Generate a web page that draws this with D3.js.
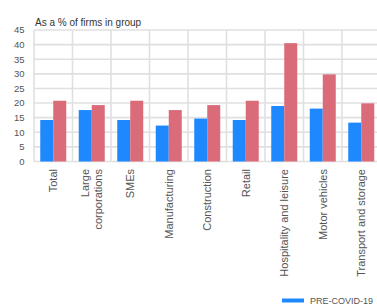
<!DOCTYPE html>
<html><head><meta charset="utf-8">
<script src="https://cdn.jsdelivr.net/npm/d3@7"></script>
<style>
html,body{margin:0;padding:0;background:#fff;overflow:hidden;}
svg{display:block;font-family:"Liberation Sans",Arial,sans-serif;}
</style></head>
<body>
<svg id="chart" width="377" height="305"></svg>
<script>
const categories = ["Total", "Large corporations", "SMEs", "Manufacturing", "Construction", "Retail", "Hospitality and leisure", "Motor vehicles", "Transport and storage"];
const categoryLines = [["Total"], ["Large", "corporations"], ["SMEs"], ["Manufacturing"], ["Construction"], ["Retail"], ["Hospitality and leisure"], ["Motor vehicles"], ["Transport and storage"]];
const preCovid = [14.2, 17.6, 14.2, 12.3, 14.7, 14.2, 19.0, 18.1, 13.3];
const current = [20.8, 19.3, 20.8, 17.6, 19.3, 20.8, 40.5, 29.8, 19.9];
const yTicks = [0, 5, 10, 15, 20, 25, 30, 35, 40, 45];
const seriesNames = ["PRE-COVID-19", "CURRENT"];
const legendShown = ["PRE-COVID-19"];
const colors = ["#1e88ff", "#da6b79"];

(function () {
const svg = d3.select("#chart");
const mLeft = 34, bandW = 38.5, mTop = 30, mBottom = 161.5;
const x = d3.scaleBand().domain(categories).range([mLeft, mLeft + bandW * categories.length]).padding(0);
const y = d3.scaleLinear().domain([0, 45]).range([mBottom, mTop]);
const xs = d3.scaleBand().domain(seriesNames).range([0, 26]);
const color = d3.scaleOrdinal().domain(seriesNames).range(colors);

// horizontal gridlines
svg.append("g").selectAll("line").data(yTicks).join("line")
  .attr("x1", mLeft).attr("x2", 377)
  .attr("y1", d => y(d)).attr("y2", d => y(d))
  .attr("stroke", "#e0e0e0").attr("stroke-width", 1.6);
// vertical gridlines
const bounds = categories.map(c => x(c)).concat([x.range()[1]]);
svg.append("g").selectAll("line").data(bounds).join("line")
  .attr("x1", d => d).attr("x2", d => d)
  .attr("y1", mTop).attr("y2", mBottom)
  .attr("stroke", "#e0e0e0").attr("stroke-width", 1.6);

// y tick labels
svg.append("g").selectAll("text").data(yTicks).join("text")
  .attr("x", 24.5).attr("y", d => y(d)).attr("dy", "0.35em")
  .attr("text-anchor", "end").attr("font-size", 9.5).attr("fill", "#555")
  .text(d => d);

// title
svg.append("text").attr("x", 35).attr("y", 26).attr("font-size", 10).attr("fill", "#333")
  .text("As a % of firms in group");

// bars
const series = [preCovid, current];
const off = (bandW - 26) / 2;
series.forEach((vals, si) => {
  svg.append("g").selectAll("rect").data(vals).join("rect")
    .attr("x", (d, i) => x(categories[i]) + off + xs(seriesNames[si]))
    .attr("width", xs.bandwidth())
    .attr("y", d => y(d))
    .attr("height", d => y(0) - y(d))
    .attr("fill", color(seriesNames[si]));
});

// category labels
const lab = svg.append("g");
categories.forEach((c, i) => {
  const cx = x(c) + bandW / 2;
  const lines = categoryLines[i];
  const n = lines.length;
  lines.forEach((t, li) => {
    const lx = cx + (li - (n - 1) / 2) * 13;
    lab.append("text")
      .attr("transform", `translate(${lx},169) rotate(-90)`)
      .attr("text-anchor", "end").attr("dy", "0.35em")
      .attr("font-size", 11).attr("fill", "#555")
      .text(t);
  });
});

// legend (only the first entry fits in the visible area)
const lg = svg.append("g");
legendShown.forEach((s, i) => {
  const ly = 300.5;
  lg.append("rect").attr("x", 282).attr("y", ly - 2).attr("width", 22).attr("height", 4).attr("fill", color(s));
  lg.append("text").attr("x", 310).attr("y", ly).attr("dy", "0.35em")
    .attr("font-size", 9).attr("fill", "#555").text(s);
});
})();
</script>
</body></html>
